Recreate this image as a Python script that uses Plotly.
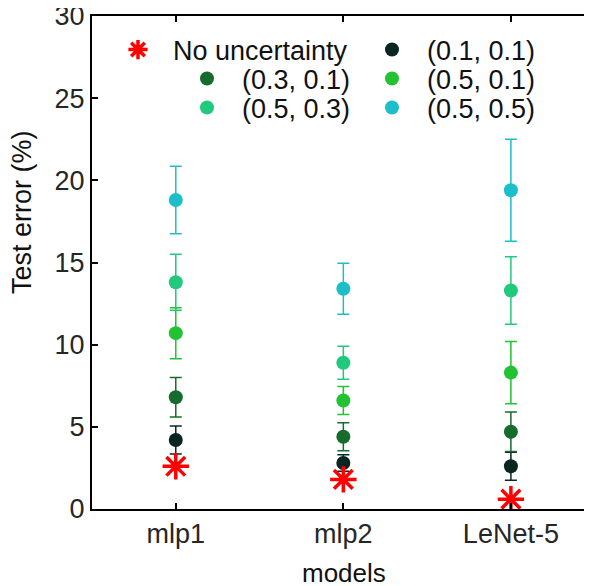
import plotly.graph_objects as go

# models on the x axis
models = ["mlp1", "mlp2", "LeNet-5"]

# test error (%) per setting, with error bar half-widths
no_uncertainty = [2.6, 1.8, 0.6]

err_01_01 = [4.2, 2.8, 2.6]
std_01_01 = [0.85, 0.5, 0.85]

err_03_01 = [6.8, 4.4, 4.7]
std_03_01 = [1.2, 0.85, 1.2]

err_05_01 = [10.7, 6.6, 8.3]
std_05_01 = [1.55, 0.85, 1.9]

err_05_03 = [13.8, 8.9, 13.3]
std_05_03 = [1.7, 1.0, 2.05]

err_05_05 = [18.8, 13.4, 19.4]
std_05_05 = [2.05, 1.55, 3.1]

# the page body has an 8px default margin, so the figure is made smaller
OFF = 8
W, H = 592 - OFF, 586 - OFF
ML, MR, MT, MB = 92 - OFF, 0, 16 - OFF, 586 - 509
FONT = "Liberation Sans, Arial, sans-serif"


def px_to_paper(px, py):
    """Window pixel position -> paper coordinates of the plot area."""
    px, py = px - OFF, py - OFF
    return (px - ML) / (W - ML - MR), (H - MB - py) / (H - MT - MB)


series = [
    ("(0.1, 0.1)", err_01_01, std_01_01, "#0b2620", "legend2"),
    ("(0.3, 0.1)", err_03_01, std_03_01, "#156c2c", "legend3"),
    ("(0.5, 0.1)", err_05_01, std_05_01, "#22c232", "legend4"),
    ("(0.5, 0.3)", err_05_03, std_05_03, "#20c97c", "legend5"),
    ("(0.5, 0.5)", err_05_05, std_05_05, "#1cbfc9", "legend6"),
]

fig = go.Figure()

for name, vals, errs, color, leg in series:
    fig.add_trace(go.Scatter(
        x=models, y=vals, mode="markers", name=name, legend=leg,
        marker=dict(size=14, color=color),
        error_y=dict(type="data", array=errs, visible=True,
                     color=color, thickness=1.5, width=6),
    ))

fig.add_trace(go.Scatter(
    x=models, y=no_uncertainty, mode="markers", name="No uncertainty",
    legend="legend",
    marker=dict(symbol="asterisk", size=22, color="#ff0000",
                line=dict(color="#ff0000", width=3.5)),
))

# legend entries placed like the MATLAB legend grid (marker x, row y in px)
legend_pos = {
    "legend": (138, 50),
    "legend2": (392, 50),
    "legend3": (207, 79),
    "legend4": (392, 79),
    "legend5": (207, 108),
    "legend6": (392, 108),
}
MARK_OFF = 35  # px from legend left edge to marker centre
leg_layout = {}
for key, (mx, my) in legend_pos.items():
    lx, ly = px_to_paper(mx - MARK_OFF, my)
    leg_layout[key] = dict(
        x=lx, y=ly, xanchor="left", yanchor="middle",
        bgcolor="rgba(0,0,0,0)", borderwidth=0,
        itemwidth=60, font=dict(family=FONT, size=27, color="#111111"),
    )

ytx, yty = px_to_paper(22, 212)
mx_, my_ = px_to_paper(344, 573)

fig.update_layout(
    width=W, height=H,
    margin=dict(l=ML, r=MR, t=MT, b=MB, autoexpand=False),
    plot_bgcolor="white", paper_bgcolor="white",
    showlegend=True,
    font=dict(family=FONT, size=27, color="#262626"),
    xaxis=dict(
        type="category", range=[-0.5, 2.484], automargin=False,
        showline=True, linecolor="black", linewidth=2, mirror="ticks",
        ticks="inside", ticklen=6, tickwidth=2, tickcolor="black",
        showgrid=False, zeroline=False, ticklabeloverflow="allow",
        tickfont=dict(family=FONT, size=27, color="#262626"),
    ),
    yaxis=dict(
        range=[0, 30], tickvals=[0, 5, 10, 15, 20, 25, 30], automargin=False,
        showline=True, linecolor="black", linewidth=2,
        ticks="inside", ticklen=6, tickwidth=2, tickcolor="black",
        showgrid=False, zeroline=False, ticklabeloverflow="allow",
        tickfont=dict(family=FONT, size=27, color="#262626"),
    ),
    yaxis2=dict(
        range=[0, 30], tickvals=[0, 5, 10, 15, 20, 25, 30], automargin=False,
        overlaying="y", side="right", showline=False,
        ticks="inside", ticklen=6, tickwidth=2, tickcolor="black",
        showticklabels=False, showgrid=False, zeroline=False,
    ),
    annotations=[
        dict(text="Test error (%)", x=ytx, y=yty,
             xref="paper", yref="paper", showarrow=False,
             textangle=-90, xanchor="center", yanchor="middle",
             font=dict(family=FONT, size=27, color="#111111")),
        dict(text="models", x=mx_, y=my_,
             xref="paper", yref="paper", showarrow=False,
             xanchor="center", yanchor="middle",
             font=dict(family=FONT, size=26, color="#111111")),
    ],
    **leg_layout,
)

# dummy trace so the right-hand tick marks are drawn
fig.add_trace(go.Scatter(x=[models[0]], y=[None], yaxis="y2",
                         showlegend=False, hoverinfo="skip"))

fig.write_html("out.html")
